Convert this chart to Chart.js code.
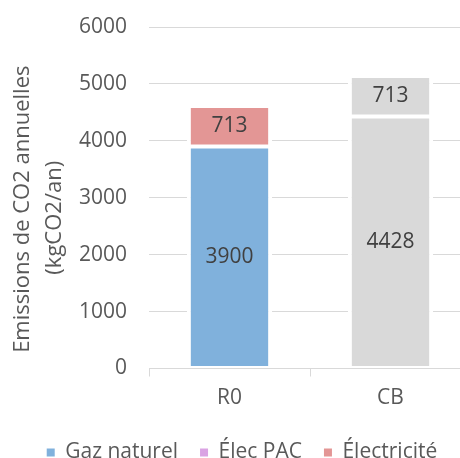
<!DOCTYPE html>
<html>
<head>
<meta charset="utf-8">
<script src="https://cdn.jsdelivr.net/npm/chart.js@4.4.1/dist/chart.umd.min.js"></script>
<style>
  html, body { margin: 0; padding: 0; background: #fff; overflow: hidden; }
  #wrap { width: 484px; height: 473px; }
</style>
</head>
<body>
<div id="wrap"><canvas id="chart" width="484" height="473"></canvas></div>
<script>
// scenarios and yearly CO2 emissions per energy source (kgCO2/an)
const scenarios = ['R0', 'CB'];
const gazNaturel = [3900, 4428];
const elecPac = [0, 0];
const electricite = [713, 713];

const seriesNames = ['Gaz naturel', 'Élec PAC', 'Électricité'];
const legendColors = ['#80b1dc', '#daa3e3', '#e39695'];
// CB bar is drawn in grey for every source
const barColors = [
  ['#80b1dc', '#d9d9d9'],
  ['#daa3e3', '#d9d9d9'],
  ['#e39695', '#d9d9d9']
];
const yMin = 0, yMax = 6000, yStep = 1000;

const textColor = '#595959';
const gridColor = '#d9d9d9';

Chart.defaults.font.family = "'Open Sans', sans-serif";
Chart.defaults.font.size = 21;
Chart.defaults.color = textColor;

// value written in the middle of each stacked segment
const segmentLabels = {
  id: 'segmentLabels',
  afterDatasetsDraw(chart) {
    const ctx = chart.ctx;
    ctx.save();
    ctx.font = "21px 'Open Sans', sans-serif";
    ctx.fillStyle = '#404040';
    ctx.textAlign = 'center';
    ctx.textBaseline = 'middle';
    chart.data.datasets.forEach((ds, di) => {
      chart.getDatasetMeta(di).data.forEach((bar, i) => {
        const v = ds.data[i];
        if (!v) return;
        ctx.fillText(String(v), bar.x, (bar.y + bar.base) / 2);
      });
    });
    ctx.restore();
  }
};

const data = [gazNaturel, elecPac, electricite];

new Chart(document.getElementById('chart'), {
  type: 'bar',
  data: {
    labels: scenarios,
    datasets: seriesNames.map((name, i) => ({
      label: name,
      data: data[i],
      backgroundColor: barColors[i],
      borderColor: '#ffffff',
      borderWidth: { top: 2, bottom: 2, left: 4, right: 4 },
      borderSkipped: false,
      barPercentage: 0.53,
      categoryPercentage: 1
    }))
  },
  options: {
    responsive: false,
    animation: false,
    // plot runs from x=149 to x=471, the canvas is a bit wider than the page
    layout: { padding: { top: 27, left: 13, right: 13, bottom: 0 } },
    plugins: {
      tooltip: { enabled: false },
      legend: {
        position: 'bottom',
        labels: {
          boxWidth: 8,
          boxHeight: 8,
          padding: 22,
          color: textColor,
          generateLabels: () => seriesNames.map((name, i) => ({
            text: name,
            fillStyle: legendColors[i],
            strokeStyle: legendColors[i],
            lineWidth: 0,
            fontColor: textColor,
            hidden: false,
            datasetIndex: i
          }))
        }
      }
    },
    scales: {
      x: {
        stacked: true,
        grid: {
          offset: true,
          drawOnChartArea: false,
          drawTicks: true,
          tickLength: 8,
          color: gridColor
        },
        border: { display: true, color: gridColor },
        ticks: { padding: 9, color: textColor },
        afterFit: s => { s.height = 51.5; }
      },
      y: {
        stacked: true,
        min: yMin,
        max: yMax,
        grid: { color: gridColor, drawTicks: false },
        border: { display: false },
        ticks: {
          stepSize: yStep,
          padding: 22,
          color: textColor,
          callback: v => String(v)
        },
        title: {
          display: true,
          // trailing spaces push the rotated lines a little lower
          text: ['Emissions de CO2 annuelles' + ' '.repeat(4), '(kgCO2/an)' + ' '.repeat(7)],
          font: { size: 22, lineHeight: 1.45 },
          color: textColor,
          padding: { top: -6, bottom: 0 }
        },
        afterFit: s => {
          s.width = 136;
          // top/bottom room comes from the layout padding only
          s.paddingTop = 0;
          s.paddingBottom = 0;
        }
      }
    }
  },
  plugins: [segmentLabels]
});
</script>
</body>
</html>
